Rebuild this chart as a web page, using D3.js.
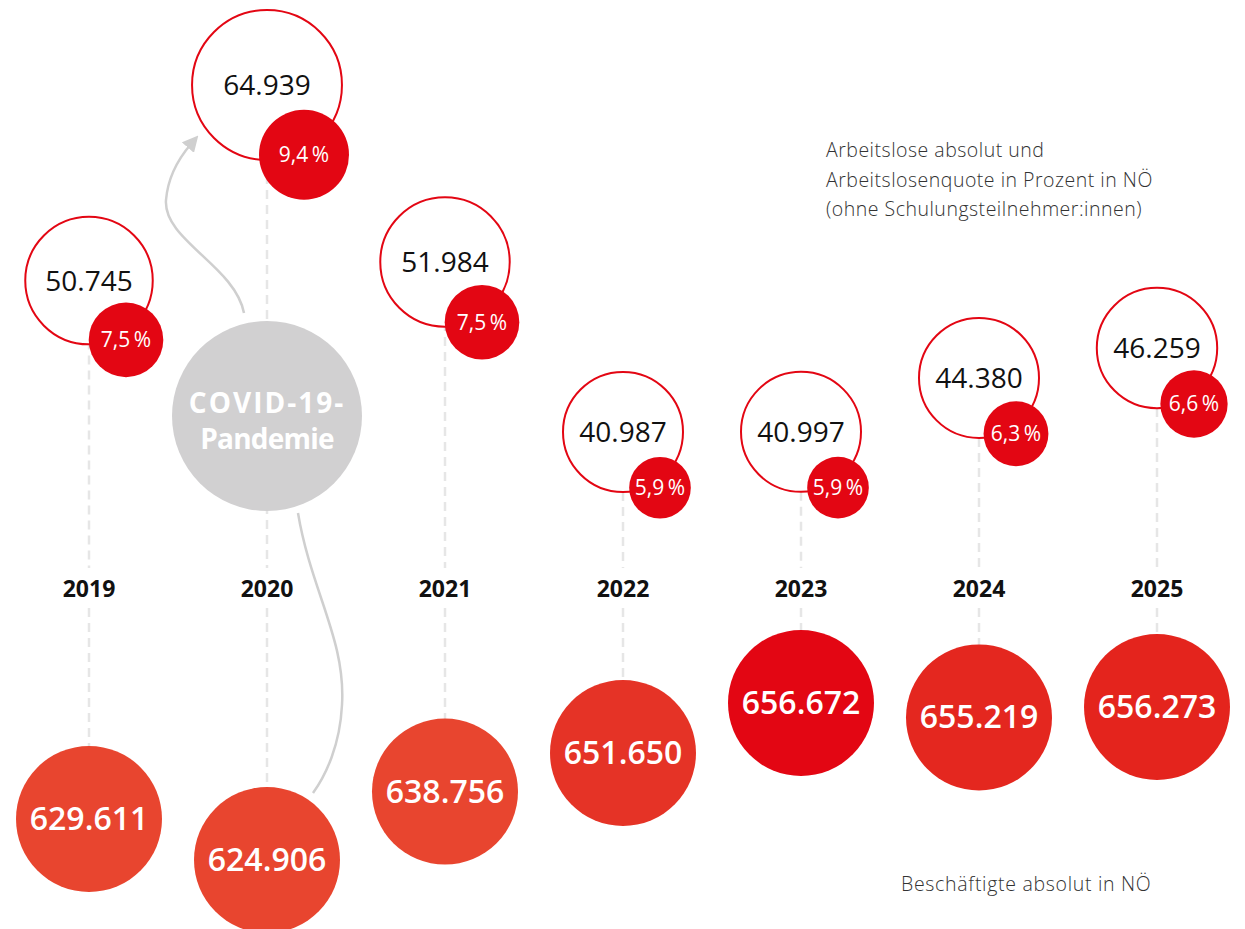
<!DOCTYPE html>
<html>
<head>
<meta charset="utf-8">
<script src="https://cdn.jsdelivr.net/npm/d3@7"></script>
<style>
    body { margin: 0; background: #fff; }
    svg text { font-family: "Open Sans", "DejaVu Sans", sans-serif; }
</style>
</head>
<body>
<div id="labour-chart"></div>
<script>
var years = ["2019", "2020", "2021", "2022", "2023", "2024", "2025"];
var unemployed = [50745, 64939, 51984, 40987, 40997, 44380, 46259];
var unemployment_rate = [7.5, 9.4, 7.5, 5.9, 5.9, 6.3, 6.6];
var employed = [629611, 624906, 638756, 651650, 656672, 655219, 656273];
var legend_top = ["Arbeitslose absolut und", "Arbeitslosenquote in Prozent in NÖ", "(ohne Schulungsteilnehmer:innen)"];
var legend_bottom = "Beschäftigte absolut in NÖ";
var covid_label = ["COVID-19-", "Pandemie"];
var covid_year = "2020";

function draw_labour_chart() {
    var width = 1245;
    var height = 929;

    var de = d3.formatLocale({ decimal: ",", thousands: ".", grouping: [3], currency: ["", " €"] });
    var fmt_int = de.format(",d");
    var fmt_pct = de.format(".1f");

    var data = years.map(function(y, i) {
        return { year: y, unemployed: unemployed[i], rate: unemployment_rate[i], employed: employed[i] };
    });

    var x = d3.scalePoint().domain(years).range([89, 1157]);
    var y_top = d3.scaleLinear().domain([40987, 46259, 51984, 64939]).range([432, 348, 262, 85]);
    var r_top = d3.scaleLinear().domain([46000, 65000]).range([60, 75]).clamp(true);
    var r_rate = d3.scaleLinear().domain([5.7, 9.4]).range([30, 45]);
    var y_bottom = d3.scaleLinear().domain([624906, 629611, 651650, 656672]).range([860, 819, 753, 703]);
    var r_bottom = 73;
    var color_bottom = d3.scaleLinear()
        .domain([638756, 651650, 656273, 656672])
        .range(["#e8452f", "#e53326", "#e4241d", "#e30613"])
        .clamp(true);

    var red = "#e30613";
    var grey = "#d1d0d1";
    var label_top = 568, label_bottom = 608, label_y = 597;

    var svg = d3.select("#labour-chart")
        .append("svg")
        .attr("width", width)
        .attr("height", height);

    var defs = svg.append("defs");
    defs.append("marker")
        .attr("id", "arrow-head")
        .attr("viewBox", "0 0 10 10")
        .attr("refX", 3)
        .attr("refY", 5)
        .attr("markerWidth", 16)
        .attr("markerHeight", 16)
        .attr("markerUnits", "userSpaceOnUse")
        .attr("orient", "auto")
        .append("path")
            .attr("d", "M0,0 L10,5 L0,10 Z")
            .attr("fill", "#cfcfcf");

    // dashed guide lines, broken for the year label
    var guides = svg.append("g").attr("class", "guides");
    guides.selectAll("line.upper").data(data).enter()
        .append("line")
            .attr("class", "upper")
            .attr("x1", function(d) { return x(d.year); })
            .attr("x2", function(d) { return x(d.year); })
            .attr("y1", function(d) { return y_top(d.unemployed); })
            .attr("y2", label_top);
    guides.selectAll("line.lower").data(data).enter()
        .append("line")
            .attr("class", "lower")
            .attr("x1", function(d) { return x(d.year); })
            .attr("x2", function(d) { return x(d.year); })
            .attr("y1", label_bottom)
            .attr("y2", function(d) { return y_bottom(d.employed); });
    guides.selectAll("line")
        .attr("stroke", "#e6e6e6")
        .attr("stroke-width", 2.5)
        .attr("stroke-dasharray", "9,6");

    // covid annotation
    var cx = x(covid_year), cy = 416;
    var notes = svg.append("g").attr("class", "covid");
    notes.append("path")
        .attr("d", "M" + (cx - 23) + "," + (cy - 103) +
                   " C" + (cx - 32) + "," + (cy - 150) + " " + (cx - 104) + "," + (cy - 176) + " " + (cx - 101) + "," + (cy - 216) +
                   " C" + (cx - 99) + "," + (cy - 240) + " " + (cx - 88) + "," + (cy - 258) + " " + (cx - 76) + "," + (cy - 272))
        .attr("fill", "none")
        .attr("stroke", "#cfcfcf")
        .attr("stroke-width", 2.5)
        .attr("marker-end", "url(#arrow-head)");
    notes.append("path")
        .attr("d", "M" + (cx + 31) + "," + (cy + 97) +
                   " C" + (cx + 44) + "," + (cy + 175) + " " + (cx + 79) + "," + (cy + 224) + " " + (cx + 75) + "," + (cy + 289) +
                   " C" + (cx + 73) + "," + (cy + 329) + " " + (cx + 59) + "," + (cy + 359) + " " + (cx + 46) + "," + (cy + 377))
        .attr("fill", "none")
        .attr("stroke", "#cfcfcf")
        .attr("stroke-width", 2.5);
    notes.append("circle")
        .attr("cx", cx)
        .attr("cy", cy)
        .attr("r", 95)
        .attr("fill", grey);
    notes.selectAll("text").data(covid_label).enter()
        .append("text")
            .attr("x", cx)
            .attr("y", function(d, i) { return cy - 3 + i * 36; })
            .attr("text-anchor", "middle")
            .attr("fill", "#fff")
            .attr("font-weight", 700)
            .attr("font-size", 28)
            .attr("letter-spacing", function(d, i) { return i == 0 ? 2 : -0.8; })
            .text(function(d) { return d; });

    // employed circles
    var bottom = svg.append("g").attr("class", "employed")
        .selectAll("g").data(data).enter()
        .append("g")
            .attr("transform", function(d) { return "translate(" + x(d.year) + "," + y_bottom(d.employed) + ")"; });
    bottom.append("circle")
        .attr("r", r_bottom)
        .attr("fill", function(d) { return color_bottom(d.employed); });
    bottom.append("text")
        .attr("y", 11)
        .attr("text-anchor", "middle")
        .attr("fill", "#fff")
        .attr("font-weight", 600)
        .attr("font-size", 32)
        .text(function(d) { return fmt_int(d.employed); });

    // unemployed + rate circles
    var top = svg.append("g").attr("class", "unemployed")
        .selectAll("g").data(data).enter()
        .append("g")
            .attr("transform", function(d) { return "translate(" + x(d.year) + "," + y_top(d.unemployed) + ")"; });
    top.append("circle")
        .attr("r", function(d) { return r_top(d.unemployed); })
        .attr("fill", "#fff")
        .attr("stroke", red)
        .attr("stroke-width", 2);
    top.append("text")
        .attr("y", 10)
        .attr("text-anchor", "middle")
        .attr("fill", "#111")
        .attr("font-size", 28)
        .text(function(d) { return fmt_int(d.unemployed); });

    var rate = top.append("g")
        .attr("transform", function(d) { return "translate(37," + (0.93 * r_top(d.unemployed)) + ")"; });
    rate.append("circle")
        .attr("r", function(d) { return r_rate(d.rate); })
        .attr("fill", red);
    rate.append("text")
        .attr("y", 7.5)
        .attr("text-anchor", "middle")
        .attr("fill", "#fff")
        .attr("font-size", 21)
        .text(function(d) { return fmt_pct(d.rate) + "\u2009%"; });

    // year labels
    svg.append("g").attr("class", "years")
        .selectAll("text").data(data).enter()
        .append("text")
            .attr("x", function(d) { return x(d.year); })
            .attr("y", label_y)
            .attr("text-anchor", "middle")
            .attr("fill", "#111")
            .attr("font-weight", 700)
            .attr("font-size", 23)
            .text(function(d) { return d.year; });

    // legends
    svg.append("g").attr("class", "legend-top")
        .selectAll("text").data(legend_top).enter()
        .append("text")
            .attr("x", 826)
            .attr("y", function(d, i) { return 157 + i * 29.5; })
            .attr("fill", "#333")
            .attr("font-weight", 300)
            .attr("font-size", 19.5)
            .attr("letter-spacing", 0.5)
            .text(function(d) { return d; });
    svg.append("text")
        .attr("x", 901)
        .attr("y", 891)
        .attr("fill", "#333")
        .attr("font-weight", 300)
        .attr("font-size", 19.5)
        .attr("letter-spacing", 0.7)
        .text(legend_bottom);
}

draw_labour_chart();
</script>
</body>
</html>
